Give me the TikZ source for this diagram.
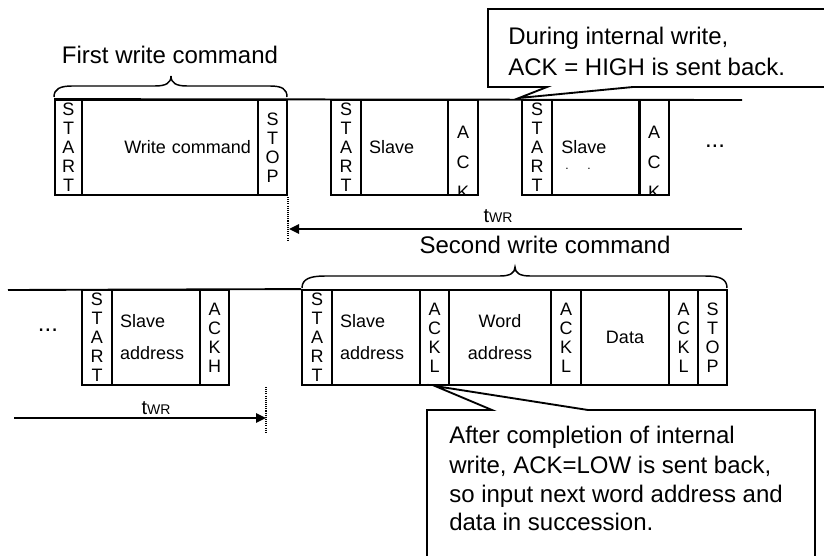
\documentclass[tikz,border=0pt]{standalone}
\usepackage{fontspec}
\setmainfont{Liberation Sans}
\usetikzlibrary{arrows.meta}
\newcommand\fld[6][]{\node[fld,#1,minimum width={(#4-#3)*0.75pt}] (#2) at ({(#3+#4)/2},#5) {#6};}
\begin{document}
\begin{tikzpicture}[x=0.75pt,y=-0.75pt,
  fld/.style={draw, line width=1.4pt, minimum height=71.25pt, inner sep=0pt, align=center,
    font=\fontsize{13.5}{14.25}\selectfont},
  two/.style={font=\fontsize{13.5}{24}\selectfont},
  lft/.style={align=left, text width={(#1-16)*0.75pt}, inner xsep=6pt},
  sig/.style={line width=1.4pt},
  brc/.style={line width=1.1pt},
  big/.style={font=\fontsize{18}{21.75}\selectfont, inner sep=0pt},
  small/.style={font=\fontsize{13.5}{14.25}\selectfont, inner sep=0pt},
  tiny/.style={font=\fontsize{9}{10}\selectfont, inner sep=0pt},
  callout/.style={draw, fill=white, line width=1.4pt},
  tarr/.style={line width=1.4pt, -{Triangle[length=7.5pt,width=7pt]}},
  dots/.style={line width=0.8pt, dash pattern=on 0.8pt off 0.8pt},
  twr/.style={inner sep=0pt}
]
\clip (0,0) rectangle (824,556);
\fill[white] (0,0) rectangle (824,556);

% ---------- top row ----------
\fld{s1}{55}{82}{147.5}{S\\T\\A\\R\\T}
\fld[align=right, text width={(176-14)*0.75pt}, inner xsep=5.25pt]{wc}{82}{258}{147.5}{Write command}
\fld{p1}{258}{287}{147.5}{S\\T\\O\\P}
\fld{s2}{331}{361}{147.5}{S\\T\\A\\R\\T}
\fld[lft=87]{sl2}{361}{448}{147.5}{Slave}
\fld{ack2}{448}{478}{147.5}{}
\fld{s3}{522}{552}{147.5}{S\\T\\A\\R\\T}
\fld{sl3}{552}{640}{147.5}{}
\fld{ack3}{639}{669}{147.5}{}
\begin{scope}
  \clip (ack2.south west) rectangle (ack2.north east);
  \node[font=\fontsize{13.5}{22.5}\selectfont, align=center, inner sep=0pt] (ack2t) at (463,162) {A\\C\\K};
\end{scope}
\begin{scope}
  \clip (ack3.south west) rectangle (ack3.north east);
  \node[font=\fontsize{13.5}{22.5}\selectfont, align=center, inner sep=0pt] (ack3t) at (654,162) {A\\C\\K};
\end{scope}
\node[small, anchor=west] (sl3t) at (561,147) {Slave};
\node[tiny, anchor=base] (sl3d) at (578,170) {.\kern 14pt.};
\coordinate (tr) at (742,100);
\draw[sig] (s1.north west) -- (tr);
\node[big] (dt) at (715,146) {...};

% first brace
\draw[brc] (54,97) .. controls (54,89) and (60,86) .. (72,86) -- (155,86)
  .. controls (166,86) and (171,83) .. (171,76)
  .. controls (171,83) and (176,86) .. (187,86) -- (270,86)
  .. controls (282,86) and (287,89) .. (287,97);
\node[big] (fwc) at (170,55) {First write command};

% top tWR
\coordinate (ta1) at (742,229);
\coordinate (ta2) at (289,229);
\draw[tarr] (ta1) -- (ta2);
\coordinate (d1a) at (288,197);
\coordinate (d1b) at (288,240);
\draw[dots] (d1a) -- (d1b);
\node[twr, anchor=base] (twr1) at (498,222) {\fontsize{15}{15}\selectfont t\fontsize{10.5}{12}\selectfont WR};

% ---------- bottom row ----------
\fld{bs1}{82}{112}{337.5}{S\\T\\A\\R\\T}
\fld[lft=88, two]{bsl1}{112}{200}{337.5}{Slave\\address}
\fld{bak1}{200}{229}{337.5}{A\\C\\K\\H}
\fld{bs2}{302}{332}{337.5}{S\\T\\A\\R\\T}
\fld[lft=88, two]{bsl2}{332}{420}{337.5}{Slave\\address}
\fld{bak2}{420}{449}{337.5}{A\\C\\K\\L}
\fld[two]{bwa}{449}{551}{337.5}{Word\\address}
\fld{bak3}{551}{581}{337.5}{A\\C\\K\\L}
\fld{bda}{581}{669}{337.5}{Data}
\fld{bak4}{669}{698}{337.5}{A\\C\\K\\L}
\fld{bp}{698}{727}{337.5}{S\\T\\O\\P}
\coordinate (bl) at (8,290);
\draw[sig] (bl) -- (bs2.north west);
\node[big] (db) at (48,330) {...};

% second brace
\draw[brc] (302,288) .. controls (302,279) and (310,276) .. (325,276) -- (500,276)
  .. controls (510,276) and (515,273) .. (515,267)
  .. controls (515,273) and (520,276) .. (530,276) -- (705,276)
  .. controls (720,276) and (727,279) .. (727,288);
\node[big] (swc) at (545,245) {Second write command};

% bottom tWR
\coordinate (tb1) at (14,418);
\coordinate (tb2) at (266,418);
\draw[tarr] (tb1) -- (tb2);
\coordinate (d2a) at (266,387);
\coordinate (d2b) at (266,432);
\draw[dots] (d2a) -- (d2b);
\node[twr, anchor=base] (twr2) at (156,414) {\fontsize{15}{15}\selectfont t\fontsize{10.5}{12}\selectfont WR};

% ---------- callouts ----------
\coordinate (c1tip) at (519,98);
\draw[callout] (488,9) -- (840,9) -- (840,87) -- (633,87) -- (c1tip) -- (547,87) -- (488,87) -- cycle;
\node[big, anchor=base west] (c1l1) at (508,45) {During internal write,};
\node[big, anchor=base west] (c1l2) at (508,76) {ACK = HIGH is sent back.};

\coordinate (c2tip) at (435,386);
\draw[callout] (427,410) -- (492,410) -- (c2tip) -- (588,410) -- (815,410) -- (815,580) -- (427,580) -- cycle;
\node[big, anchor=base west] (c2l1) at (449,443) {After completion of internal};
\node[big, anchor=base west] (c2l2) at (449,473) {write, ACK=LOW is sent back,};
\node[big, anchor=base west] (c2l3) at (449,502) {so input next word address and};
\node[big, anchor=base west] (c2l4) at (449,530) {data in succession.};
\end{tikzpicture}
\end{document}
